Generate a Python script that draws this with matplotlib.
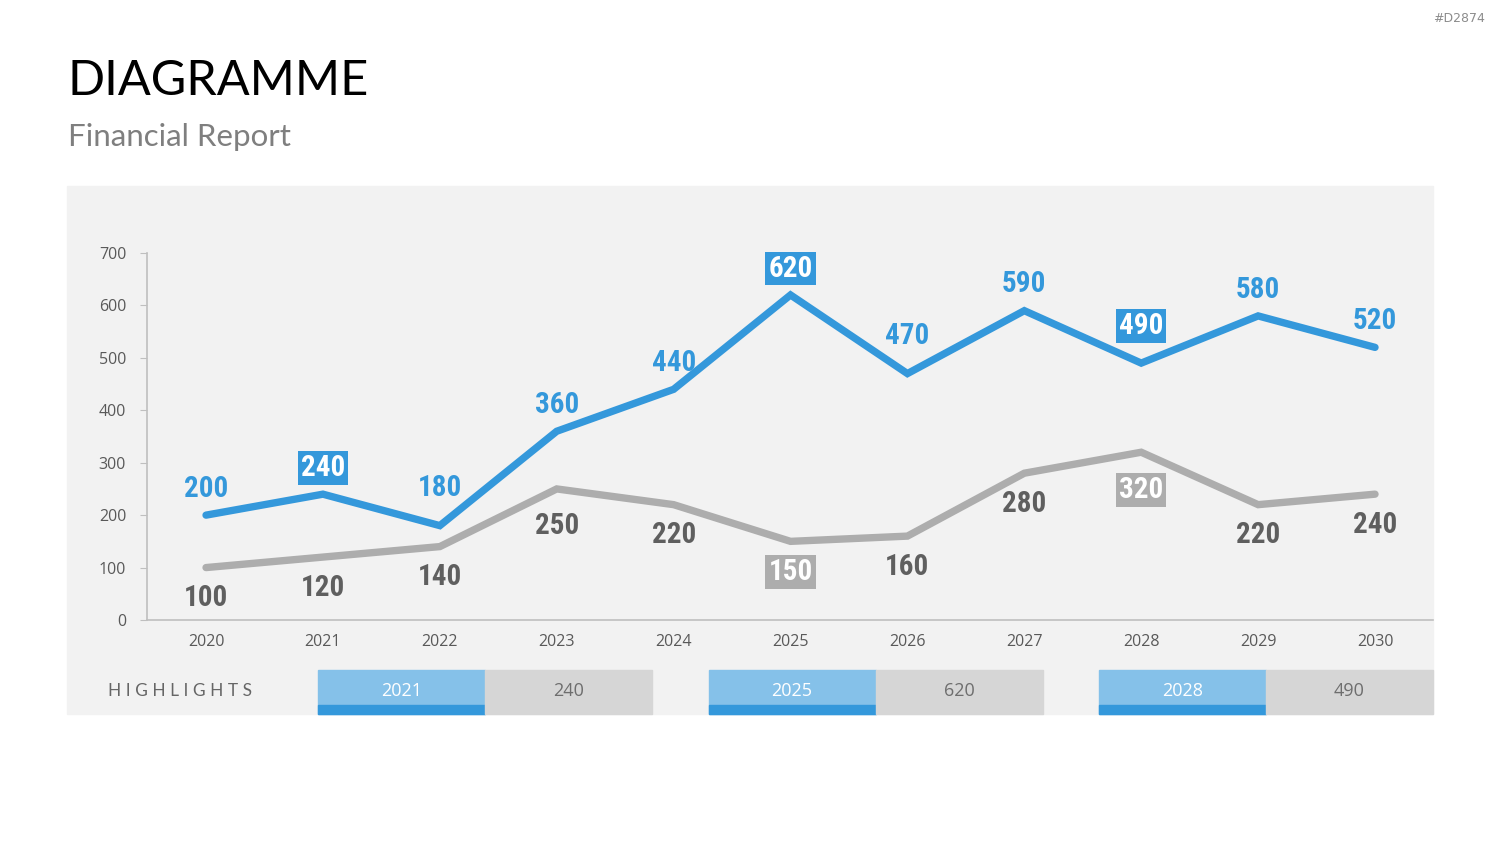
import matplotlib.pyplot as plt
from matplotlib.patches import Rectangle

years = [2020, 2021, 2022, 2023, 2024, 2025, 2026, 2027, 2028, 2029, 2030]
blue_vals = [200, 240, 180, 360, 440, 620, 470, 590, 490, 580, 520]
gray_vals = [100, 120, 140, 250, 220, 150, 160, 280, 320, 220, 240]
blue_boxed = [2021, 2025, 2028]
gray_boxed = [2025, 2028]
highlight_years = [2021, 2025, 2028]
highlight_vals = [240, 620, 490]
yticks = [0, 100, 200, 300, 400, 500, 600, 700]

BLUE = '#3498DB'
LIGHTBLUE = '#85C1E9'
GRAY = '#ADADAD'
DARK = '#595959'

fig = plt.figure(figsize=(15, 8.44), dpi=100)
W, H = 1500, 844

def px(x0, y0, w, h):
    # pixel box -> figure coords
    return [x0 / W, 1 - (y0 + h) / H, w / W, h / H]

def is_peak(vals, i, sign):
    # sign=1: local max, sign=-1: local min
    if i == 0 or i == len(vals) - 1:
        return False
    return sign * (vals[i] - vals[i - 1]) > 0 and sign * (vals[i] - vals[i + 1]) > 0

# background panel
fig.patches.append(Rectangle((67 / W, 1 - 714 / H), 1366 / W, 528 / H,
                             transform=fig.transFigure, color='#F2F2F2', zorder=-1))

fig.text(68 / W, 1 - 81 / H, 'DIAGRAMME', fontsize=35, family='Lato',
         color='black', va='center', ha='left')
fig.text(68 / W, 1 - 137 / H, 'Financial Report', fontsize=22.5, family='Lato',
         color='#7F7F7F', va='center', ha='left')
fig.text(1485 / W, 1 - 19 / H, '#D2874', fontsize=9, color='#8C8C8C',
         ha='right', va='center')

ax = fig.add_axes(px(147, 253, 1286, 367))
ax.set_facecolor('none')
ax.plot(years, gray_vals, color=GRAY, lw=5.3, solid_capstyle='round',
        solid_joinstyle='miter', zorder=2)
ax.plot(years, blue_vals, color=BLUE, lw=5.3, solid_capstyle='round',
        solid_joinstyle='miter', zorder=3)

lab = dict(ha='center', va='center', fontsize=21, fontweight='bold',
           family=['Roboto Condensed', 'Open Sans Condensed', 'DejaVu Sans'],
           fontstretch='condensed', textcoords='offset points')

for i, (x, v) in enumerate(zip(years, blue_vals)):
    dy = 19 + (8 if is_peak(blue_vals, i, -1) else 0)
    if x in blue_boxed:
        ax.annotate(str(v), (x, v), xytext=(0, dy), color='white',
                    bbox=dict(boxstyle='square,pad=0.1', fc=BLUE, ec='none'), **lab)
    else:
        ax.annotate(str(v), (x, v), xytext=(0, dy), color=BLUE, **lab)

for i, (x, v) in enumerate(zip(years, gray_vals)):
    dy = -22 - (5 if is_peak(gray_vals, i, 1) else 0)
    if x in gray_boxed:
        ax.annotate(str(v), (x, v), xytext=(0, dy), color='white',
                    bbox=dict(boxstyle='square,pad=0.1', fc=GRAY, ec='none'), **lab)
    else:
        ax.annotate(str(v), (x, v), xytext=(0, dy), color='#5F5F5F', **lab)

ax.set_xlim(2019.495, 2030.496)
ax.set_ylim(0, 700)
ax.set_xticks(years)
ax.set_yticks(yticks)
ax.tick_params(axis='x', length=0, pad=10, labelsize=11.5, labelcolor=DARK)
ax.tick_params(axis='y', length=5, color='#BFBFBF', pad=10, labelsize=11.5,
               labelcolor=DARK)
for t in ax.get_xticklabels() + ax.get_yticklabels():
    t.set_family('Open Sans')
for s in ['top', 'right']:
    ax.spines[s].set_visible(False)
for s in ['left', 'bottom']:
    ax.spines[s].set_color('#BFBFBF')
    ax.spines[s].set_linewidth(1.2)

# highlights row
fig.text(108 / W, 1 - 691 / H, ' '.join('HIGHLIGHTS'),
         fontsize=12.5, family='Lato', color='#666666', va='center', ha='left')
for i, (yr, val) in enumerate(zip(highlight_years, highlight_vals)):
    x0 = 318 + i * 390.5
    fig.patches.append(Rectangle((x0 / W, 1 - 714 / H), 167 / W, 44 / H,
                                 transform=fig.transFigure, color=LIGHTBLUE, zorder=1))
    fig.patches.append(Rectangle((x0 / W, 1 - 714 / H), 167 / W, 9 / H,
                                 transform=fig.transFigure, color=BLUE, zorder=1))
    fig.patches.append(Rectangle(((x0 + 167) / W, 1 - 714 / H), 167 / W, 44 / H,
                                 transform=fig.transFigure, color='#D6D6D6', zorder=1))
    fig.text((x0 + 83.5) / W, 1 - 691 / H, str(yr), fontsize=13, family='Open Sans',
             color='white', ha='center', va='center')
    fig.text((x0 + 250.5) / W, 1 - 691 / H, str(val), fontsize=13, family='Open Sans',
             color='#6E6E6E', ha='center', va='center')

fig.savefig('out.png', dpi=100)
